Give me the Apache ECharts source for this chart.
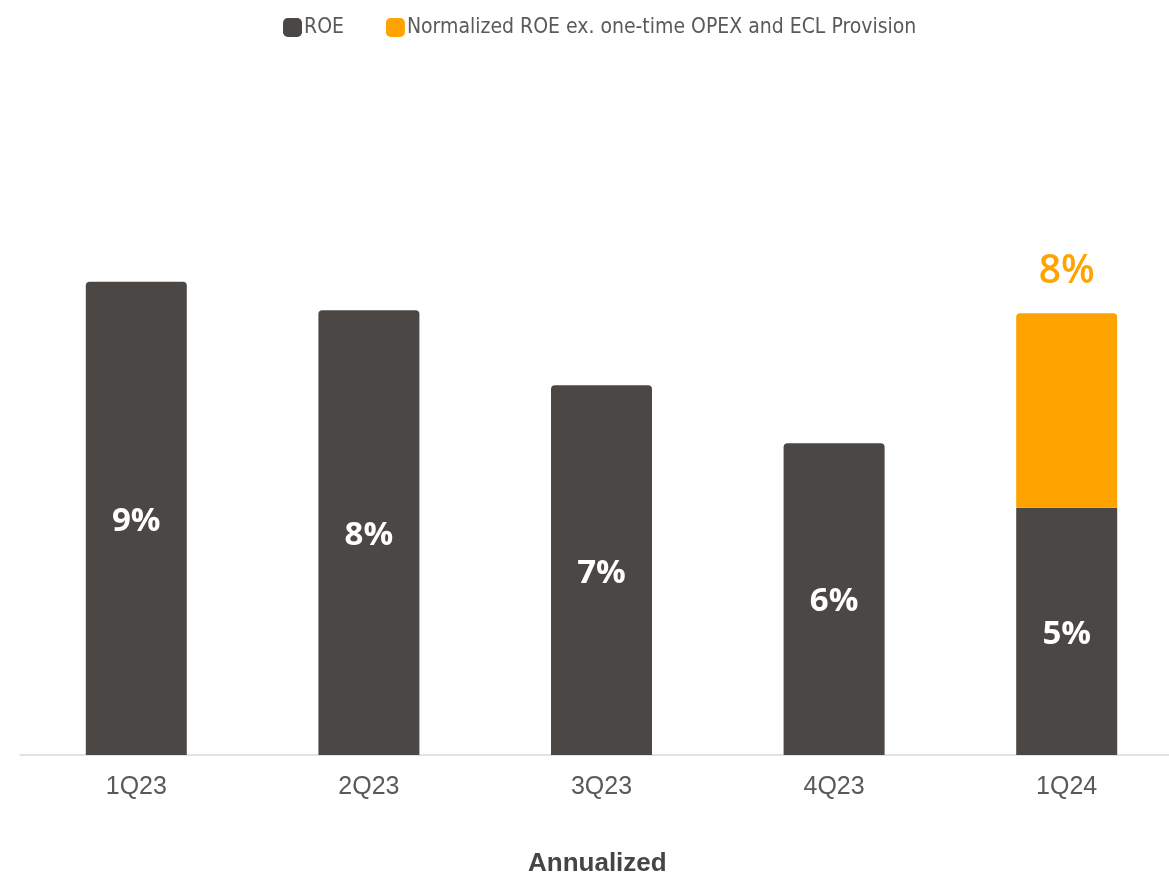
<!DOCTYPE html>
<html>
<head>
<meta charset="utf-8">
<title>ROE</title>
<script src="https://cdn.jsdelivr.net/npm/echarts@6/dist/echarts.min.js"></script>
<style>
  html, body { margin: 0; padding: 0; background: #ffffff; }
  #chart { width: 1169px; height: 876px; }
</style>
</head>
<body>
<div id="chart"></div>
<script>
// Quarterly annualized ROE (%)
const quarters = ['1Q23', '2Q23', '3Q23', '4Q23', '1Q24'];
const roe = [9.0, 8.46, 7.03, 5.93, 4.70];
// Extra return when one-time OPEX and ECL provision are excluded (only 1Q24)
const normalizedAdd = [null, null, null, null, 3.70];
const seriesNames = ['ROE', 'Normalized ROE ex. one-time OPEX and ECL Provision'];
const footnote = 'Annualized';

const DARK = '#4b4744';
const ORANGE = '#ffa300';

const chart = echarts.init(document.getElementById('chart'));

chart.setOption({
  animation: false,
  backgroundColor: '#ffffff',
  legend: {
    top: 12,
    left: 278,
    itemWidth: 19,
    itemHeight: 19,
    itemGap: 42,
    icon: 'roundRect',
    textStyle: {
      fontFamily: 'DejaVu Sans Condensed, DejaVu Sans',
      fontSize: 21,
      color: '#5a5a5a',
      padding: [0, 0, 0, -3]
    },
    data: seriesNames
  },
  title: {
    text: footnote,
    left: 523,
    top: 846,
    textStyle: {
      fontFamily: 'Liberation Sans, Arial',
      fontSize: 26,
      fontWeight: 'bold',
      color: '#454545'
    }
  },
  grid: {
    left: 20,
    right: -14,
    top: 124,
    bottom: 121,
    containLabel: false,
    outerBoundsMode: 'none'
  },
  xAxis: {
    type: 'category',
    data: quarters,
    axisLine: { lineStyle: { color: '#d9d9d9', width: 1.5 } },
    axisTick: { show: false },
    axisLabel: {
      margin: 20,
      fontFamily: 'Liberation Sans, Arial',
      fontSize: 25,
      color: '#595959'
    }
  },
  yAxis: {
    type: 'value',
    min: 0,
    max: 12,
    show: false,
    splitLine: { show: false }
  },
  series: [
    {
      name: seriesNames[0],
      type: 'bar',
      stack: 'roe',
      barWidth: 101,
      data: roe.map((v, i) => ({
        value: v,
        itemStyle: { borderRadius: normalizedAdd[i] == null ? [4, 4, 0, 0] : 0 }
      })),
      itemStyle: { color: DARK },
      label: {
        show: true,
        position: 'inside',
        offset: [0, 3],
        formatter: p => Math.round(p.value) + '%',
        fontFamily: 'Open Sans',
        fontWeight: 'bold',
        fontSize: 33,
        color: '#ffffff'
      }
    },
    {
      name: seriesNames[1],
      type: 'bar',
      stack: 'roe',
      barWidth: 101,
      data: normalizedAdd,
      itemStyle: { color: ORANGE, borderRadius: [4, 4, 0, 0] },
      label: {
        show: true,
        position: 'top',
        distance: 22,
        formatter: p => p.value == null ? '' : Math.round(p.value + roe[p.dataIndex]) + '%',
        fontFamily: 'Open Sans',
        fontWeight: 600,
        fontSize: 39,
        color: ORANGE
      }
    }
  ]
});
</script>
</body>
</html>
